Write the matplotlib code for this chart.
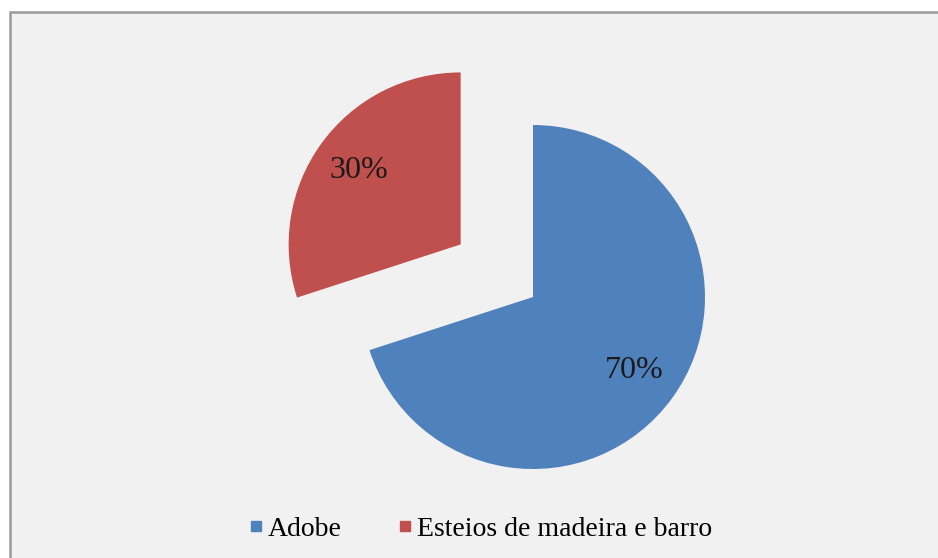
import matplotlib
matplotlib.use("Agg")
import matplotlib.pyplot as plt
from matplotlib.patches import Rectangle
from matplotlib.lines import Line2D

categories = ["Adobe", "Esteios de madeira e barro"]
shares = [70, 30]
colors = ["#4f81bd", "#c0504d"]

W, H = 938, 558
fig = plt.figure(figsize=(W / 100, H / 100), dpi=100)
fig.patch.set_facecolor("white")

# chart area panel with a grey frame
fig.patches.append(Rectangle((10 / W, -0.01), 1.0, (H - 12) / H + 0.01,
                             transform=fig.transFigure, facecolor="#f1f1f1",
                             edgecolor="#9a9a9a", linewidth=1.8, zorder=-5))

# pie axes: one data unit equals the pie radius in pixels
R = 172.0
cx, cy = 533.0, 297.0
ax = fig.add_axes([0, 0, 1, 1], zorder=2)
ax.patch.set_alpha(0)

serif = "Liberation Serif"
wedges, _, autotexts = ax.pie(
    shares, colors=colors, startangle=90, counterclock=False,
    explode=[0, 0.52], autopct=lambda p: f"{p:.0f}%", pctdistance=0.73,
    textprops=dict(family=serif, fontsize=23, color="#1a1a1a"),
    wedgeprops=dict(linewidth=0))
ax.set_aspect("auto")
ax.set_xlim(-cx / R, (W - cx) / R)
ax.set_ylim(-(H - cy) / R, cy / R)
ax.axis("off")

handles = [Line2D([], [], marker="s", linestyle="none", markersize=7.5,
                  markerfacecolor=c, markeredgecolor=c) for c in colors]
fig.legend(handles, categories, loc="center", bbox_to_anchor=(480 / W, (H - 529) / H),
           ncol=2, frameon=False, prop=dict(family=serif, size=20),
           handlelength=0.55, handletextpad=0.15, columnspacing=2.0)

fig.savefig("out.png", dpi=100)
